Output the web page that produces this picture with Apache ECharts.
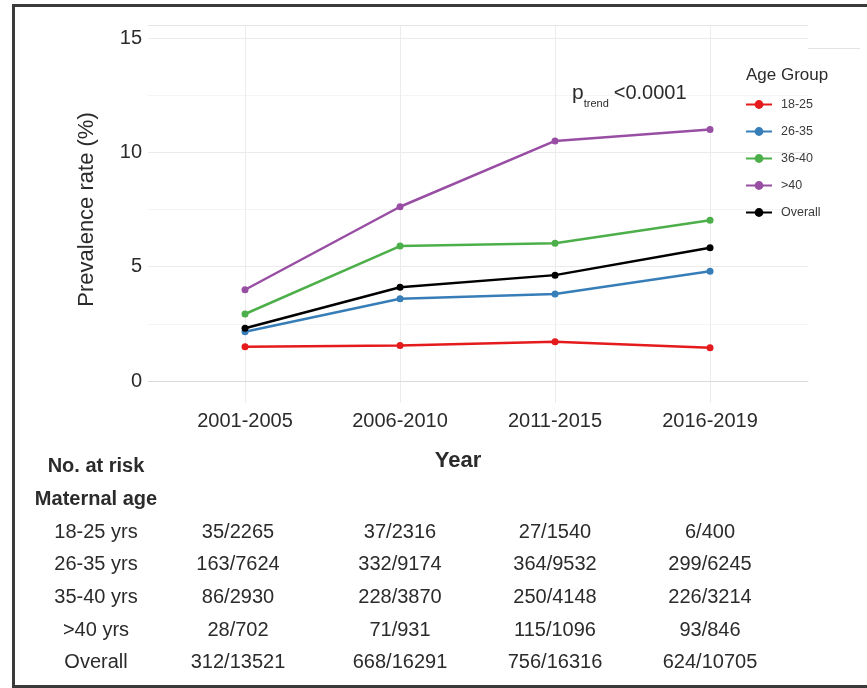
<!DOCTYPE html>
<html><head><meta charset="utf-8">
<script src="https://cdn.jsdelivr.net/npm/echarts@6/dist/echarts.min.js"></script>
<style>
html,body{margin:0;padding:0;background:#fff;overflow:hidden;}
#c{position:absolute;left:0;top:0;width:867px;height:688px;}
#frame{position:absolute;left:12px;top:4px;width:900px;height:684px;border:3px solid #3a3a3a;box-sizing:border-box;pointer-events:none;}
#stub{position:absolute;left:808px;top:48px;width:52px;height:1px;background:#e2e2e2;}
</style></head><body>
<div id="c"></div><div id="stub"></div><div id="frame"></div>
<script>
// ---- data ----
const categories = ['2001-2005', '2006-2010', '2011-2015', '2016-2019'];
const groupNames = ['18-25', '26-35', '36-40', '>40', 'Overall'];
const rate1825 = [1.50, 1.55, 1.72, 1.45];
const rate2635 = [2.15, 3.60, 3.80, 4.80];
const rate3640 = [2.93, 5.90, 6.02, 7.03];
const rateOver40 = [3.99, 7.62, 10.50, 11.00];
const rateOverall = [2.31, 4.10, 4.63, 5.83];
const yTickLabels = [0, 5, 10, 15];
const tableRowLabels = ['18-25 yrs', '26-35 yrs', '35-40 yrs', '>40 yrs', 'Overall'];
const risk1825 = ['35/2265', '37/2316', '27/1540', '6/400'];
const risk2635 = ['163/7624', '332/9174', '364/9532', '299/6245'];
const risk3540 = ['86/2930', '228/3870', '250/4148', '226/3214'];
const riskOver40 = ['28/702', '71/931', '115/1096', '93/846'];
const riskOverall = ['312/13521', '668/16291', '756/16316', '624/10705'];

// ---- styling / layout ----
const FONT = '"Liberation Sans", Arial, sans-serif';
const TXT = '#2b2b2b';
const colors = ['#E41A1C', '#377EB8', '#4DAF4A', '#984EA3', '#000000'];
const seriesValues = [rate1825, rate2635, rate3640, rateOver40, rateOverall];
const tableRows = [risk1825, risk2635, risk3540, riskOver40, riskOverall];
const colX = [238, 400, 555, 710];
const rowLabelX = 96;
const rowY0 = 532, rowStep = 32.7;

const chart = echarts.init(document.getElementById('c'), null, {renderer: 'canvas'});

const graphics = [];
graphics.push({type: 'text', x: 458, y: 461, style: {text: 'Year', font: 'bold 22px ' + FONT, fill: TXT, align: 'center', verticalAlign: 'middle'}});
graphics.push({type: 'text', x: rowLabelX, y: 466, style: {text: 'No. at risk', font: 'bold 20px ' + FONT, fill: TXT, align: 'center', verticalAlign: 'middle'}});
graphics.push({type: 'text', x: rowLabelX, y: 499, style: {text: 'Maternal age', font: 'bold 20px ' + FONT, fill: TXT, align: 'center', verticalAlign: 'middle'}});
tableRows.forEach((row, r) => {
  const y = rowY0 + r * rowStep;
  graphics.push({type: 'text', x: rowLabelX, y: y, style: {text: tableRowLabels[r], font: '20px ' + FONT, fill: TXT, align: 'center', verticalAlign: 'middle'}});
  row.forEach((cell, c) => {
    graphics.push({type: 'text', x: colX[c], y: y, style: {text: cell, font: '20px ' + FONT, fill: TXT, align: 'center', verticalAlign: 'middle'}});
  });
});

const option = {
  animation: false,
  backgroundColor: '#ffffff',
  textStyle: {fontFamily: FONT},
  title: [
    {text: 'Age Group', left: 741, top: 62, textStyle: {fontFamily: FONT, fontSize: 17, fontWeight: 'normal', color: TXT}},
    {text: '{p|p}{s|trend} {v|<0.0001}', left: 567, top: 76,
     textStyle: {fontWeight: 'normal', rich: {
       p: {fontFamily: FONT, fontSize: 21, fontWeight: 'normal', color: TXT, lineHeight: 24},
       s: {fontFamily: FONT, fontSize: 11, fontWeight: 'normal', color: TXT, verticalAlign: 'bottom', lineHeight: 24, padding: [0, 0, -4, 0]},
       v: {fontFamily: FONT, fontSize: 20, fontWeight: 'normal', color: TXT, lineHeight: 24}
     }}}
  ],
  legend: {
    orient: 'vertical', left: 740, top: 93, itemWidth: 26, itemHeight: 11, itemGap: 14,
    data: groupNames,
    textStyle: {fontFamily: FONT, fontSize: 12.5, color: '#3a3a3a', padding: [0, 0, 0, 4]}
  },
  grid: [
    {left: 148, right: 59, top: 38, bottom: 307},
    {left: 245, right: 157, top: 25, bottom: 285}
  ],
  xAxis: [
    {gridIndex: 0, type: 'value', min: -0.626, max: 3.632, offset: 22,
     axisLine: {show: true, lineStyle: {color: '#dadada', width: 1}},
     axisTick: {show: false}, axisLabel: {show: false}, splitLine: {show: false}},
    {gridIndex: 0, type: 'value', position: 'top', min: -0.626, max: 3.632, offset: 13,
     axisLine: {show: true, lineStyle: {color: '#e6e6e6', width: 1}},
     axisTick: {show: false}, axisLabel: {show: false}, splitLine: {show: false}},
    {gridIndex: 1, type: 'value', min: 0, max: 3, interval: 1,
     axisLine: {show: false}, axisTick: {show: false},
     axisLabel: {formatter: v => categories[v] || '', fontFamily: FONT, fontSize: 20, color: TXT, margin: 8},
     splitLine: {show: true, lineStyle: {color: '#ececec', width: 1}}}
  ],
  yAxis: [
    {gridIndex: 0, type: 'value', min: 0, max: 15, interval: 2.5,
     name: 'Prevalence rate (%)', nameLocation: 'middle', nameGap: 50, nameRotate: 90,
     nameTextStyle: {fontFamily: FONT, fontSize: 22, color: TXT},
     axisLine: {show: false}, axisTick: {show: false},
     axisLabel: {formatter: v => yTickLabels.includes(v) ? String(v) : '', fontFamily: FONT, fontSize: 20, color: TXT, margin: 6},
     splitLine: {show: true, lineStyle: {color: ['#ebebeb', '#f4f4f4'], width: 1}}},
    {gridIndex: 1, type: 'value', min: 0, max: 1, show: false}
  ],
  series: groupNames.map((name, i) => ({
    name: name, type: 'line', xAxisIndex: 0, yAxisIndex: 0,
    data: seriesValues[i].map((v, j) => [j, v]),
    symbol: 'circle', symbolSize: 7,
    lineStyle: {width: 2.5, color: colors[i]},
    itemStyle: {color: colors[i]},
    z: 2 + i
  })),
  graphic: graphics
};
chart.setOption(option);
</script>
</body></html>
